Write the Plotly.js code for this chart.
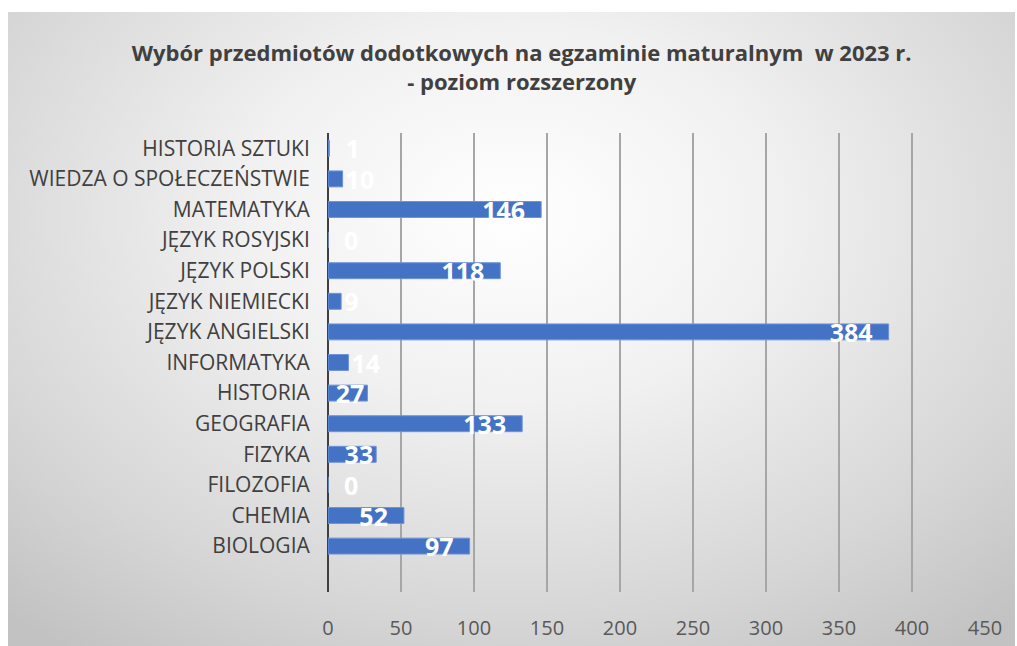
<!DOCTYPE html>
<html>
<head>
<meta charset="utf-8">
<script src="https://cdn.plot.ly/plotly-3.0.1.min.js"></script>
<style>
  html, body { margin: 0; padding: 0; background: #ffffff; }
  #bg { position: absolute; left: 8px; top: 12px; width: 1007px; height: 634px;
        background: radial-gradient(ellipse 75% 85% at 50% 32%, #ffffff 0%, #f1f1f1 35%, #d6d6d6 75%, #c2c2c2 100%); }
  #chart { position: absolute; left: 0; top: 0; width: 1017px; height: 646px; }
</style>
</head>
<body>
<div id="bg"></div>
<div id="chart"></div>
<script>
// Data (bottom to top, as drawn)
const subjects = [
  "BIOLOGIA", "CHEMIA", "FILOZOFIA", "FIZYKA", "GEOGRAFIA", "HISTORIA",
  "INFORMATYKA", "JĘZYK ANGIELSKI", "JĘZYK NIEMIECKI", "JĘZYK POLSKI",
  "JĘZYK ROSYJSKI", "MATEMATYKA", "WIEDZA O SPOŁECZEŃSTWIE", "HISTORIA SZTUKI"
];
const counts = [97, 52, 0, 33, 133, 27, 14, 384, 9, 118, 0, 146, 10, 1];
const xTicks = [0, 50, 100, 150, 200, 250, 300, 350, 400, 450];
const titleText = "Wybór przedmiotów dodotkowych na egzaminie maturalnym  w 2023 r.<br>- poziom rozszerzony";

// label placement (Excel "inside end" look): styling only
const NB = "\u00a0";
const labelPos = counts.map(v => v >= 25 ? "inside" : "outside");
const labelText = counts.map(v => {
  if (v >= 50) return String(v) + NB + NB;
  if (v >= 25) return String(v);
  if (v <= 2) return NB + NB + String(v);
  return String(v);
});

const labelFont = { color: "#ffffff", size: 25, family: "Open Sans, sans-serif", weight: "bold" };

const trace = {
  type: "bar",
  orientation: "h",
  y: subjects,
  x: counts,
  width: 0.52,
  marker: { color: "#4472C4", line: { color: "#6d93d8", width: 1 } },
  text: labelText,
  textposition: labelPos,
  insidetextanchor: "end",
  textangle: 0,
  textfont: labelFont,
  outsidetextfont: labelFont,
  insidetextfont: labelFont,
  constraintext: "none",
  cliponaxis: false,
  hoverinfo: "x+y"
};

const layout = {
  width: 1017,
  height: 646,
  paper_bgcolor: "rgba(0,0,0,0)",
  plot_bgcolor: "rgba(0,0,0,0)",
  margin: { l: 328, r: 32, t: 133, b: 54, pad: 0 },
  showlegend: false,
  font: { family: "Open Sans, sans-serif", color: "#595959" },
  title: {
    text: titleText,
    x: 0.513, xanchor: "center",
    y: 0.905, yanchor: "middle",
    font: { family: "Open Sans, sans-serif", size: 22, color: "#404040", weight: "bold" }
  },
  xaxis: {
    range: [0, 450],
    tickvals: xTicks,
    ticktext: xTicks.map(String),
    showgrid: true,
    gridcolor: "#a6a6a6",
    gridwidth: 1.5,
    zeroline: true,
    zerolinecolor: "#404040",
    zerolinewidth: 2.5,
    ticks: "outside",
    ticklen: 18,
    tickcolor: "rgba(0,0,0,0)",
    tickfont: { size: 20, color: "#595959", family: "Open Sans, sans-serif" },
    fixedrange: true
  },
  yaxis: {
    type: "category",
    categoryorder: "array",
    categoryarray: subjects,
    range: [-1.5, 13.5],
    showgrid: false,
    zeroline: false,
    showline: false,
    ticks: "outside",
    ticklen: 13,
    tickcolor: "rgba(0,0,0,0)",
    tickfont: { size: 21, color: "#404040", family: "Open Sans, sans-serif" },
    fixedrange: true
  },
  bargap: 0.48
};

Plotly.newPlot("chart", [trace], layout, { displayModeBar: false, staticPlot: true });
</script>
</body>
</html>
